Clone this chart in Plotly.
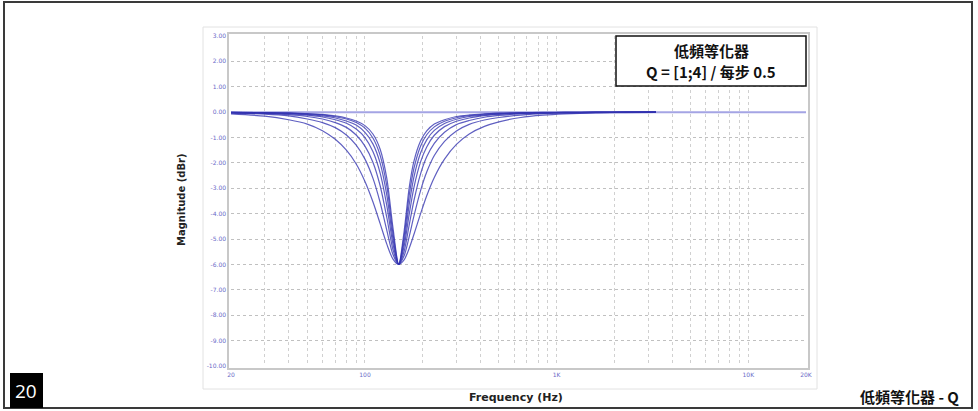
import plotly.graph_objects as go

# ---------------- data ----------------
freq_hz = [20, 30, 40, 50, 60, 70, 80, 90, 100, 110, 120, 130, 140, 150, 160, 170, 180,
           195, 210, 230, 260, 300, 350, 420, 500, 650, 850, 1100, 1600, 2300, 3300]

q_1_0 = [-0.07, -0.16, -0.30, -0.47, -0.73, -1.07, -1.50, -2.04, -2.73, -3.53, -4.39, -5.20, -5.79, -6.00,
         -5.82, -5.37, -4.82, -4.00, -3.29, -2.57, -1.85, -1.27, -0.86, -0.56, -0.38, -0.21, -0.12, -0.07,
         -0.03, -0.02, -0.01]
q_1_5 = [-0.04, -0.08, -0.15, -0.27, -0.41, -0.61, -0.90, -1.30, -1.85, -2.60, -3.56, -4.66, -5.61, -6.00,
         -5.66, -4.91, -4.10, -3.09, -2.36, -1.71, -1.15, -0.74, -0.48, -0.31, -0.21, -0.12, -0.06, -0.04,
         -0.02, -0.01, 0.0]
q_2_0 = [-0.02, -0.05, -0.10, -0.17, -0.27, -0.41, -0.60, -0.90, -1.34, -1.97, -2.90, -4.15, -5.42, -6.00,
         -5.49, -4.46, -3.49, -2.43, -1.76, -1.23, -0.79, -0.49, -0.33, -0.20, -0.13, -0.07, -0.04, -0.02,
         -0.01, -0.005, 0.0]
q_2_5 = [-0.02, -0.04, -0.07, -0.12, -0.19, -0.30, -0.44, -0.66, -1.00, -1.55, -2.40, -3.68, -5.20, -6.00,
         -5.29, -4.04, -2.97, -1.96, -1.37, -0.91, -0.57, -0.36, -0.23, -0.14, -0.09, -0.05, -0.03, -0.02,
         -0.01, 0.0, 0.0]
q_3_0 = [-0.01, -0.03, -0.05, -0.09, -0.15, -0.23, -0.35, -0.51, -0.80, -1.25, -2.01, -3.27, -4.99, -6.00,
         -5.10, -3.65, -2.56, -1.61, -1.09, -0.72, -0.45, -0.28, -0.17, -0.11, -0.07, -0.04, -0.02, -0.01,
         -0.01, 0.0, 0.0]
q_3_5 = [-0.01, -0.02, -0.04, -0.07, -0.11, -0.18, -0.27, -0.41, -0.63, -1.02, -1.70, -2.91, -4.77, -6.00,
         -4.89, -3.30, -2.22, -1.34, -0.89, -0.58, -0.36, -0.22, -0.14, -0.08, -0.05, -0.03, -0.02, -0.01,
         0.0, 0.0, 0.0]
q_4_0 = [-0.01, -0.02, -0.03, -0.06, -0.09, -0.15, -0.23, -0.35, -0.53, -0.86, -1.46, -2.61, -4.56, -6.00,
         -4.70, -2.99, -1.94, -1.14, -0.74, -0.47, -0.30, -0.17, -0.11, -0.07, -0.04, -0.02, -0.01, -0.01,
         0.0, 0.0, 0.0]
q_series = [q_1_0, q_1_5, q_2_0, q_2_5, q_3_0, q_3_5, q_4_0]
q_names = ["Q=1", "Q=1.5", "Q=2", "Q=2.5", "Q=3", "Q=3.5", "Q=4"]

flat_freq = [20, 20000]
flat_mag = [0, 0]

x_grid_vals = [20, 30, 40, 50, 60, 70, 80, 90,
               100, 200, 300, 400, 500, 600, 700, 800, 900,
               1000, 2000, 3000, 4000, 5000, 6000, 7000, 8000, 9000,
               10000, 20000]
x_grid_text = ["20", "", "", "", "", "", "", "",
               "100", "", "", "", "", "", "", "", "",
               "1K", "", "", "", "", "", "", "", "",
               "10K", "20K"]
y_tick_vals = [3, 2, 1, 0, -1, -2, -3, -4, -5, -6, -7, -8, -9, -10]
y_tick_text = ["3.00", "2.00", "1.00", "0.00", "-1.00", "-2.00", "-3.00", "-4.00", "-5.00",
               "-6.00", "-7.00", "-8.00", "-9.00", "-10.00"]

# ---------------- layout helpers ----------------
W, H = 978, 411
PL, PR, PT, PB = 231, 806, 36, 366  # plot area in pixels


def px_x(px):
    return (px - PL) / (PR - PL)


def px_y(py):
    return (PB - py) / (PB - PT)


fig = go.Figure()

fig.add_trace(go.Scatter(x=flat_freq, y=flat_mag, mode="lines",
                         line=dict(color="#a4a4e4", width=2), hoverinfo="skip", showlegend=False))
for name, ys in zip(q_names, q_series):
    fig.add_trace(go.Scatter(x=freq_hz, y=ys, mode="lines", name=name,
                             line=dict(color="rgba(50,50,175,0.78)", width=1.2, shape="spline", smoothing=0.8),
                             showlegend=False))

fig.update_xaxes(type="log", range=[1.30103, 4.30103], tickvals=x_grid_vals, ticktext=x_grid_text,
                 showgrid=True, gridcolor="#d0d0d0", griddash="dot", gridwidth=1,
                 showline=True, linecolor="#c8c8c8", linewidth=1.5, mirror=True,
                 tickfont=dict(family="DejaVu Sans", size=6, color="#6a6ac8"), ticks="",
                 zeroline=False)
fig.update_yaxes(range=[-10, 3], tickvals=y_tick_vals, ticktext=y_tick_text,
                 showgrid=True, gridcolor="#c0c0c0", griddash="dot", gridwidth=1,
                 showline=True, linecolor="#c8c8c8", linewidth=1.5, mirror=True,
                 tickfont=dict(family="DejaVu Sans", size=6, color="#6a6ac8"), ticks="",
                 zeroline=False)

shapes = [
    # outer frame
    dict(type="rect", xref="paper", yref="paper", x0=px_x(4), x1=px_x(972), y0=px_y(408), y1=px_y(2),
         line=dict(color="#3a3a3a", width=2), layer="below"),
    # inner chart image border
    dict(type="rect", xref="paper", yref="paper", x0=px_x(203), x1=px_x(817), y0=px_y(389), y1=px_y(27),
         line=dict(color="#e2e2e2", width=1), layer="below"),
    # legend box
    dict(type="rect", xref="paper", yref="paper", x0=px_x(616), x1=px_x(806), y0=px_y(86), y1=px_y(36),
         line=dict(color="#111111", width=1.5), fillcolor="white", layer="above"),
    # page number box
    dict(type="rect", xref="paper", yref="paper", x0=px_x(10), x1=px_x(43), y0=px_y(408), y1=px_y(373),
         line=dict(width=0), fillcolor="black", layer="above"),
]

cjk = "Noto Sans CJK TC"
annotations = [
    dict(text="低頻等化器", x=px_x(711), y=px_y(51), xref="paper", yref="paper", showarrow=False,
         font=dict(family=cjk, size=15, color="#111", weight="bold"), xanchor="center", yanchor="middle"),
    dict(text="Q = [1;4] / 每步 0.5", x=px_x(711), y=px_y(71), xref="paper", yref="paper", showarrow=False,
         font=dict(family=cjk, size=15, color="#111", weight="bold"), xanchor="center", yanchor="middle"),
    dict(text="Magnitude (dBr)", x=px_x(181), y=px_y(200), xref="paper", yref="paper", showarrow=False,
         textangle=-90, font=dict(family="DejaVu Sans", size=10, color="#222", weight="bold"),
         xanchor="center", yanchor="middle"),
    dict(text="Frequency (Hz)", x=px_x(516), y=px_y(397), xref="paper", yref="paper", showarrow=False,
         font=dict(family="DejaVu Sans", size=11, color="#222", weight="bold"),
         xanchor="center", yanchor="middle"),
    dict(text="20", x=px_x(26), y=px_y(391), xref="paper", yref="paper", showarrow=False,
         font=dict(family="Open Sans", size=19, color="white"), xanchor="center", yanchor="middle"),
    dict(text="低頻等化器 - Q", x=px_x(961), y=px_y(396), xref="paper", yref="paper", showarrow=False,
         font=dict(family=cjk, size=15, color="#111", weight="bold"), xanchor="right", yanchor="middle"),
]

fig.update_layout(width=W, height=H, margin=dict(l=PL, r=W - PR, t=PT, b=H - PB, pad=2),
                  paper_bgcolor="white", plot_bgcolor="white", shapes=shapes, annotations=annotations,
                  showlegend=False)

fig.write_html("out.html", config={"displayModeBar": False},
               post_script="document.body.style.margin='0px';document.body.style.overflow='hidden';")
